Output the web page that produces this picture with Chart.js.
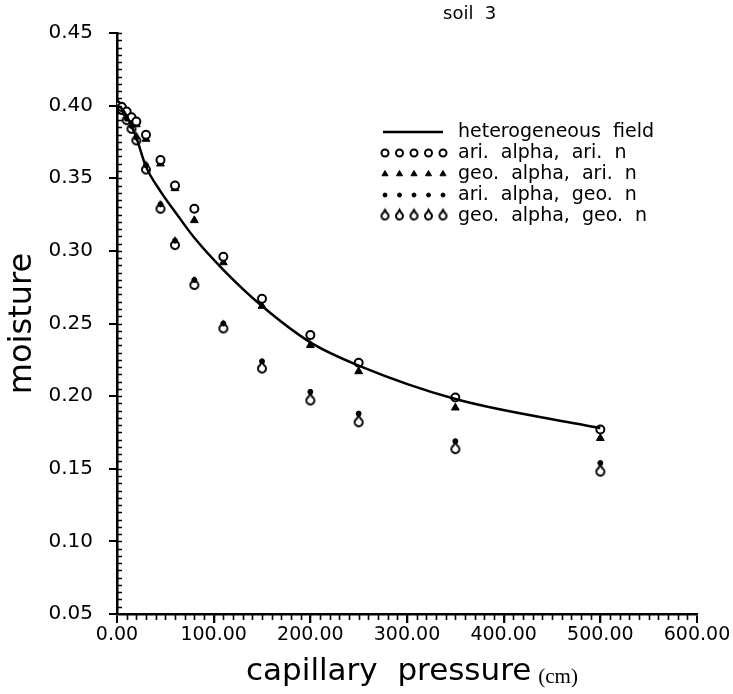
<!DOCTYPE html>
<html>
<head>
<meta charset="utf-8">
<title>soil 3</title>
<script src="https://cdn.jsdelivr.net/npm/chart.js@4.4.0/dist/chart.umd.min.js"></script>
<style>
  html, body { margin: 0; padding: 0; background: #fff; }
  #wrap { width: 733px; height: 694px; }
</style>
</head>
<body>
<div id="wrap"><canvas id="chart"></canvas></div>
<script>
// capillary pressure (cm) where the moisture was evaluated
const pressure = [0, 5, 10, 15, 20, 30, 45, 60, 80, 110, 150, 200, 250, 350, 500];

// heterogeneous field (reference curve)
const heterogeneous = [0.400, 0.398, 0.393, 0.386, 0.378, 0.358, 0.341, 0.327, 0.309, 0.287, 0.262, 0.237, 0.221, 0.198, 0.178];
// effective parameters: arithmetic / geometric mean of alpha and n
const ariAlphaAriN = [0.400, 0.399, 0.396, 0.392, 0.389, 0.380, 0.3625, 0.345, 0.329, 0.296, 0.267, 0.242, 0.223, 0.199, 0.177];
const geoAlphaAriN = [0.400, 0.398, 0.395, 0.391, 0.387, 0.377, 0.360, 0.343, 0.321, 0.292, 0.262, 0.235, 0.217, 0.192, 0.171];
const ariAlphaGeoN = [0.400, 0.398, 0.391, 0.386, 0.378, 0.359, 0.332, 0.307, 0.280, 0.250, 0.224, 0.203, 0.188, 0.169, 0.154];
const geoAlphaGeoN = [0.400, 0.397, 0.390, 0.384, 0.376, 0.356, 0.329, 0.304, 0.2765, 0.2466, 0.219, 0.197, 0.182, 0.1635, 0.148];

const seriesLabels = [
  'heterogeneous  field',
  'ari.  alpha,  ari.  n',
  'geo.  alpha,  ari.  n',
  'ari.  alpha,  geo.  n',
  'geo.  alpha,  geo.  n'
];

const xTickValues = [0, 100, 200, 300, 400, 500, 600];
const yTickValues = [0.05, 0.10, 0.15, 0.20, 0.25, 0.30, 0.35, 0.40, 0.45];

const FONT = "'DejaVu Sans', sans-serif";

// open circle with a pointed top
function makeDrop(r) {
  const s = Math.ceil(r * 2 + 6);
  const c = document.createElement('canvas');
  c.width = s; c.height = s + 6;
  const g = c.getContext('2d');
  const cx = s / 2, cy = c.height / 2;
  g.strokeStyle = '#000';
  g.fillStyle = '#fff';
  g.lineWidth = 2;
  g.beginPath();
  g.arc(cx, cy, r, -Math.PI / 3, -2 * Math.PI / 3 + 2 * Math.PI);
  g.lineTo(cx, cy - r * 1.75);
  g.closePath();
  g.fill();
  g.stroke();
  return c;
}
const dropStyle = makeDrop(4);
const dropLegend = makeDrop(3.5);

const pts = vals => pressure.map((p, i) => ({ x: p, y: vals[i] }));

const datasets = [
  {
    label: seriesLabels[0], data: pts(heterogeneous), showLine: true,
    borderColor: '#000', borderWidth: 2.5, pointRadius: 0,
    cubicInterpolationMode: 'monotone'
  },
  {
    label: seriesLabels[1], data: pts(ariAlphaAriN), showLine: false,
    pointStyle: 'circle', pointRadius: 4, borderWidth: 2,
    borderColor: '#000', backgroundColor: '#fff'
  },
  {
    label: seriesLabels[2], data: pts(geoAlphaAriN), showLine: false,
    pointStyle: 'triangle', pointRadius: 4.5, borderWidth: 1,
    borderColor: '#000', backgroundColor: '#000'
  },
  {
    label: seriesLabels[3], data: pts(ariAlphaGeoN), showLine: false,
    pointStyle: 'circle', pointRadius: 2.5, borderWidth: 1,
    borderColor: '#000', backgroundColor: '#000'
  },
  {
    label: seriesLabels[4], data: pts(geoAlphaGeoN), showLine: false,
    pointStyle: dropStyle, pointRadius: 4, borderWidth: 2,
    borderColor: '#000', backgroundColor: '#fff'
  }
];

// small ticks between the labelled ones
const minorTicks = {
  id: 'minorTicks',
  afterDraw(chart) {
    const { ctx, scales: { x, y }, chartArea: a } = chart;
    ctx.save();
    ctx.strokeStyle = '#000';
    ctx.lineWidth = 1.6;
    ctx.beginPath();
    for (let v = 10; v < 600; v += 10) {
      const px = Math.round(x.getPixelForValue(v)) + 0.5;
      const len = v % 100 === 0 ? 9 : 6;
      ctx.moveTo(px, a.bottom);
      ctx.lineTo(px, a.bottom + len);
    }
    for (let i = 1; i <= 80; i++) {
      const py = Math.round(y.getPixelForValue(0.05 + i * 0.005)) + 0.5;
      ctx.moveTo(a.left, py);
      ctx.lineTo(a.left + 5, py);
    }
    ctx.stroke();
    ctx.restore();
  }
};

// legend, title text and axis title with units
const annotations = {
  id: 'annotations',
  afterDraw(chart) {
    const { ctx, chartArea: a } = chart;
    ctx.save();
    ctx.fillStyle = '#000';
    ctx.strokeStyle = '#000';
    ctx.textBaseline = 'middle';

    ctx.font = '18px ' + FONT;
    ctx.fillText('soil  3', 443, 14);

    // x axis title
    const main = 'capillary  pressure';
    ctx.font = '31px ' + FONT;
    const w1 = ctx.measureText(main).width;
    ctx.font = "21px 'Liberation Serif', 'DejaVu Serif', serif";
    const w2 = ctx.measureText('(cm)').width;
    const gap = 7;
    const x0 = (a.left + a.right) / 2 + 5 - (w1 + gap + w2) / 2;
    ctx.textBaseline = 'alphabetic';
    ctx.font = '31px ' + FONT;
    ctx.fillText(main, x0, 680);
    ctx.font = "21px 'Liberation Serif', 'DejaVu Serif', serif";
    ctx.fillText('(cm)', x0 + w1 + gap, 683);

    // legend rows: a short line or five repeated markers, then the label
    ctx.textBaseline = 'middle';
    ctx.font = '19px ' + FONT;
    const lx = 383, tx = 458;
    chart.data.datasets.forEach((ds, i) => {
      const ry = 132 + i * 21;
      ctx.strokeStyle = '#000';
      if (ds.showLine) {
        ctx.lineWidth = 2.5;
        ctx.beginPath();
        ctx.moveTo(lx, ry);
        ctx.lineTo(lx + 60, ry);
        ctx.stroke();
      } else {
        for (let k = 0; k < 5; k++) {
          ctx.fillStyle = ds.backgroundColor;
          ctx.lineWidth = ds.borderWidth;
          Chart.helpers.drawPoint(ctx, {
            pointStyle: ds.pointStyle === dropStyle ? dropLegend : ds.pointStyle,
            radius: i === 3 ? 2 : 3.5,
            rotation: 0,
            borderWidth: ds.borderWidth
          }, lx + 2 + k * 14.5, ry);
        }
      }
      ctx.fillStyle = '#000';
      ctx.fillText(ds.label, tx, ry);
    });
    ctx.restore();
  }
};

Chart.defaults.font.family = FONT;
Chart.defaults.color = '#000';

new Chart(document.getElementById('chart'), {
  type: 'scatter',
  data: { datasets },
  options: {
    responsive: true,
    maintainAspectRatio: false,
    animation: false,
    layout: { padding: { top: 33, right: 36, left: 0, bottom: 0 } },
    plugins: { legend: { display: false }, tooltip: { enabled: false } },
    scales: {
      x: {
        type: 'linear', min: 0, max: 600,
        afterFit: s => { s.height = 80; },
        afterBuildTicks: s => { s.ticks = xTickValues.map(v => ({ value: v })); },
        grid: { drawOnChartArea: false, drawTicks: true, tickLength: 9, color: '#000', lineWidth: 2 },
        border: { display: true, color: '#000', width: 2.5 },
        ticks: {
          padding: 1, maxRotation: 0, autoSkip: false,
          font: { size: 19 },
          callback: v => Number(v).toFixed(2)
        }
      },
      y: {
        type: 'linear', min: 0.05, max: 0.45,
        afterFit: s => { s.width = 117; },
        afterBuildTicks: s => { s.ticks = yTickValues.map(v => ({ value: v })); },
        grid: { drawOnChartArea: false, drawTicks: true, tickLength: 8, color: '#000', lineWidth: 2 },
        border: { display: true, color: '#000', width: 2.5 },
        ticks: {
          padding: 16, autoSkip: false,
          font: { size: 20 },
          callback: v => Number(v).toFixed(2)
        },
        title: {
          display: true, text: 'moisture',
          font: { size: 32 }, padding: { top: 3, bottom: 0 }
        }
      }
    }
  },
  plugins: [minorTicks, annotations]
});
</script>
</body>
</html>
